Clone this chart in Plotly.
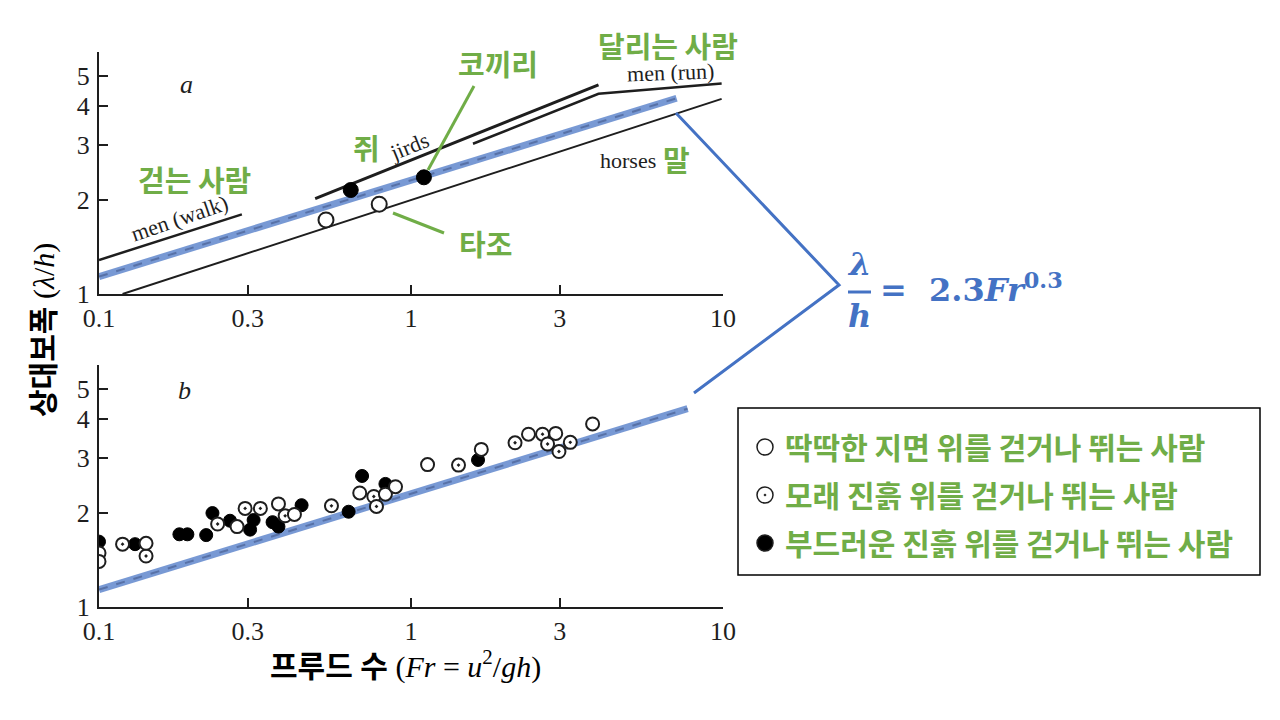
import plotly.graph_objects as go

W, H = 1280, 720
OFF = 8  # the page body margin shifts the figure by 8 px

# ---- panel a : lines (Fr, lambda/h)
walk_x = [0.1, 0.287]
walk_y = [1.285, 1.80]
jirds_x = [0.493, 3.99]
jirds_y = [2.02, 4.68]
run_x = [1.58, 3.99, 9.9]
run_y = [3.03, 4.38, 4.73]
horse_x = [0.119, 9.9]
horse_y = [1.0, 4.22]
fit_a_x = [0.1, 7.1]
fit_a_y = [1.137, 4.24]
solid_a_x = [0.641, 1.10]     # filled points (jird / elephant)
solid_a_y = [2.154, 2.366]
open_a_x = [0.534, 0.791]     # ostrich
open_a_y = [1.727, 1.94]

# ---- panel b : people on different grounds
fit_b_x = [0.1, 7.7]
fit_b_y = [1.137, 4.32]
hard_x = [0.1, 0.1, 0.1415, 0.277, 0.376, 0.423, 0.685, 0.828, 0.892, 1.13, 1.68, 2.38, 2.91, 3.82]
hard_y = [1.49, 1.40, 1.60, 1.81, 2.14, 1.98, 2.32, 2.30, 2.43, 2.86, 3.20, 3.58, 3.60, 3.86]
sand_x = [0.119, 0.1415, 0.240, 0.294, 0.329, 0.395, 0.556, 0.76, 0.775, 1.42, 2.155, 2.64, 2.74, 2.98, 3.24]
sand_y = [1.59, 1.457, 1.845, 2.07, 2.07, 1.96, 2.11, 2.26, 2.10, 2.85, 3.36, 3.58, 3.33, 3.15, 3.37]
mud_x = [0.1, 0.1305, 0.181, 0.192, 0.2206, 0.231, 0.263, 0.305, 0.313, 0.360, 0.376, 0.446, 0.631, 0.697, 0.828, 1.64]
mud_y = [1.62, 1.59, 1.71, 1.71, 1.70, 2.0, 1.89, 1.77, 1.90, 1.87, 1.81, 2.12, 2.02, 2.63, 2.48, 2.96]

x_ticks = [0.1, 0.3, 1, 3, 10]
x_ticktext = ['0.1', '0.3', '1', '3', '10']
y_ticks = [1, 2, 3, 4, 5]
y_ticktext = ['1', '2', '3', '4', '5']

legend_names = ['딱딱한 지면 위를 걷거나 뛰는 사람',
                '모래 진흙 위를 걷거나 뛰는 사람',
                '부드러운 진흙 위를 걷거나 뛰는 사람']

GREEN = '#70AD47'
BLUE = '#4472C4'
INK = '#1e1e1e'
SERIF = 'Liberation Serif'
KR = 'Noto Sans CJK KR'


def px(x):
    return (x - OFF) / W


def py(y):
    return 1 - (y - OFF) / H


fig = go.Figure()


def line(x, y, xa, ya, width=2.5):
    fig.add_trace(go.Scatter(x=x, y=y, mode='lines', xaxis=xa, yaxis=ya, showlegend=False,
                             line=dict(color=INK, width=width), hoverinfo='skip'))


def fit_line(x, y, xa, ya):
    fig.add_trace(go.Scatter(x=x, y=y, mode='lines', xaxis=xa, yaxis=ya, showlegend=False,
                             line=dict(color='rgba(68,114,196,0.72)', width=7)))
    fig.add_trace(go.Scatter(x=x, y=y, mode='lines', xaxis=xa, yaxis=ya, showlegend=False,
                             line=dict(color='rgba(60,80,130,0.55)', width=2, dash='dash')))


# panel a
line(walk_x, walk_y, 'x', 'y')
line(jirds_x, jirds_y, 'x', 'y', 3)
line(run_x, run_y, 'x', 'y')
line(horse_x, horse_y, 'x', 'y', 2)
fit_line(fit_a_x, fit_a_y, 'x', 'y')
fig.add_trace(go.Scatter(x=solid_a_x, y=solid_a_y, mode='markers', showlegend=False,
                         marker=dict(size=15, color='black', line=dict(color='black', width=1))))
fig.add_trace(go.Scatter(x=open_a_x, y=open_a_y, mode='markers', showlegend=False,
                         marker=dict(size=15, color='white', line=dict(color=INK, width=2))))

# panel b (drawn filled -> dotted -> open)
mud_mk = dict(size=13, color='black', line=dict(color='black', width=1))
sand_mk = dict(size=13, symbol='circle-dot', color='white', line=dict(color=INK, width=2))
hard_mk = dict(size=13, color='white', line=dict(color=INK, width=2))

fit_line(fit_b_x, fit_b_y, 'x2', 'y2')
for xs, ys, mk in [(mud_x, mud_y, mud_mk), (sand_x, sand_y, sand_mk), (hard_x, hard_y, hard_mk)]:
    fig.add_trace(go.Scatter(x=xs, y=ys, mode='markers', xaxis='x2', yaxis='y2',
                             showlegend=False, marker=mk))

# legend entries (bigger symbols than in the plot)
for i, (name, mk) in enumerate(zip(legend_names, [hard_mk, sand_mk, mud_mk])):
    fig.add_trace(go.Scatter(x=[None], y=[None], mode='markers', xaxis='x2', yaxis='y2',
                             name=name, legendgroup=str(i), legendrank=i + 1,
                             marker=dict(mk, size=22, line=dict(color=INK, width=1.5))))

xax = dict(type='log', range=[-1, 1], showgrid=False, zeroline=False, showline=True,
           automargin=False,
           linecolor=INK, linewidth=2, ticks='inside', ticklen=9, tickwidth=2, tickcolor=INK,
           tickvals=x_ticks, ticktext=x_ticktext,
           tickfont=dict(family=SERIF, size=26, color=INK))
yax = dict(type='log', range=[0, 0.7756], showgrid=False, zeroline=False, showline=True,
           automargin=False,
           linecolor=INK, linewidth=2, ticks='inside', ticklen=9, tickwidth=2, tickcolor=INK,
           tickvals=y_ticks, ticktext=y_ticktext, ticklabelstandoff=2,
           tickfont=dict(family=SERIF, size=26, color=INK))

fig.update_layout(
    width=W, height=H, margin=dict(l=0, r=0, t=0, b=0, autoexpand=False),
    paper_bgcolor='white', plot_bgcolor='white',
    xaxis=dict(xax, domain=[px(99), px(723)], anchor='y'),
    yaxis=dict(yax, domain=[py(294), py(52)], anchor='x'),
    xaxis2=dict(xax, domain=[px(99), px(723)], anchor='y2'),
    yaxis2=dict(yax, domain=[py(607), py(365)], anchor='x2'),
    legend=dict(x=px(745), y=py(421), xanchor='left', yanchor='top',
                bgcolor='rgba(0,0,0,0)', borderwidth=0, tracegroupgap=6,
                font=dict(family=KR, size=30, color=GREEN, weight='bold')),
)

ann = []


def text(x, y, s, size, color=INK, family=SERIF, angle=0):
    ann.append(dict(x=px(x), y=py(y), xref='paper', yref='paper', text=s, showarrow=False,
                    xanchor='center', yanchor='middle', textangle=angle,
                    font=dict(family=family, size=size, color=color)))


# panel letters and curve names
text(186, 85, '<i>a</i>', 26)
text(184, 390, '<i>b</i>', 26)
text(179, 218, 'men (walk)', 22, angle=-19)
text(409, 146, 'jirds', 22, angle=-22)
text(670, 72, 'men (run)', 22, angle=-2)
text(628, 160, 'horses', 22)

# Korean labels
for x, y, s in [(668, 45, '달리는 사람'), (498, 63, '코끼리'), (366, 147, '쥐'),
                (194, 179, '걷는 사람'), (485, 243, '타조'), (676, 159, '말')]:
    text(x, y, '<b>' + s + '</b>', 29, GREEN, KR)

# axis titles
text(44, 330, '<b>상대보폭</b> (<i>λ</i>/<i>h</i>)', 30, 'black', SERIF + ', ' + KR, -90)
text(405, 664, '<b>프루드 수</b> (<i>Fr</i> = <i>u</i><sup>2</sup>/<i>gh</i>)', 30, 'black', SERIF + ', ' + KR)

# formula
text(859, 264, '<b><i>λ</i></b>', 32, BLUE, 'DejaVu Serif')
text(859, 316, '<b><i>h</i></b>', 32, BLUE, 'DejaVu Serif')
ann.append(dict(x=px(878), y=py(288), xref='paper', yref='paper', showarrow=False,
                xanchor='left', yanchor='middle',
                text='<b>=  2.3<i>Fr</i><sup>0.3</sup></b>',
                font=dict(family='DejaVu Serif', size=32, color=BLUE)))

shapes = [
    # fraction bar
    dict(type='line', xref='paper', yref='paper', x0=px(848), x1=px(871), y0=py(292), y1=py(292),
         line=dict(color=BLUE, width=3)),
    # blue callout
    dict(type='path', xref='paper', yref='paper',
         path='M %f,%f L %f,%f L %f,%f' % (px(676), py(113), px(839), py(285), px(694), py(393)),
         line=dict(color=BLUE, width=3)),
    # green leaders
    dict(type='line', xref='paper', yref='paper', x0=px(474), y0=py(86), x1=px(428), y1=py(170),
         line=dict(color=GREEN, width=3)),
    dict(type='line', xref='paper', yref='paper', x0=px(444), y0=py(233), x1=px(393), y1=py(213),
         line=dict(color=GREEN, width=3)),
    # legend box
    dict(type='rect', xref='paper', yref='paper', x0=px(738), x1=px(1260), y0=py(575), y1=py(408),
         line=dict(color='black', width=1.5), fillcolor='rgba(0,0,0,0)', layer='below'),
]

fig.update_layout(annotations=ann, shapes=shapes)
fig.write_html('out.html')
